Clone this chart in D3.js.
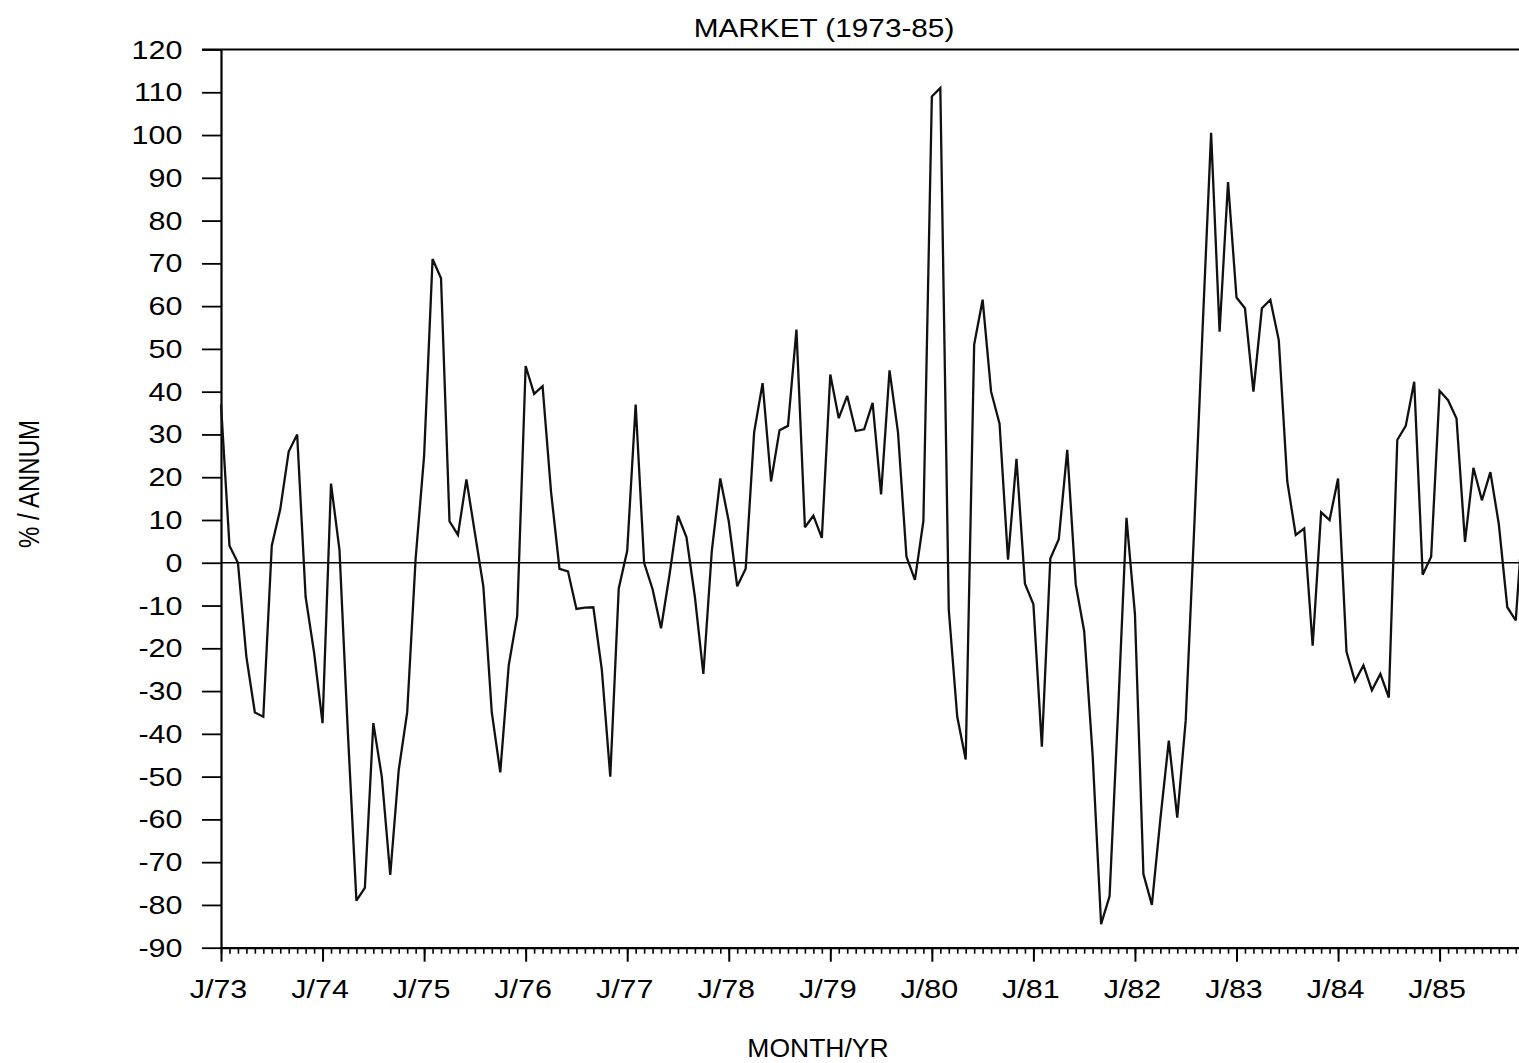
<!DOCTYPE html>
<html>
<head>
<meta charset="utf-8">
<script src="https://cdn.jsdelivr.net/npm/d3@7"></script>
<style>
  body { margin: 0; background: #fff; }
  svg { display: block; background: #fff; font-family: "Liberation Sans", Arial, Helvetica, sans-serif; }
</style>
</head>
<body>
<svg id="chart" width="1519" height="1063"></svg>
<script>
// monthly market return, % per annum, Jan 1973 onwards
var returns = [
  37, 4, 0, -22, -35, -36, 4, 12.5, 26, 30, -8, -21,            // 1973
  -37.5, 18.5, 3, -40, -79, -76, -37.5, -50, -73, -48.5, -35, 1, // 1974
  25, 71, 66.5, 9.7, 6.5, 19.5, 7, -5.5, -35, -49, -24, -12.5,   // 1975
  46, 39.5, 41.3, 16.6, -1.4, -2, -10.8, -10.5, -10.4, -25, -50, -6, // 1976
  2.8, 37, 0, -6.2, -15.3, -2.8, 11, 6, -8, -26, 2.8, 19.7,      // 1977
  9.7, -5.5, -1.4, 30.5, 42, 19, 31, 32, 54.5, 8.3, 11, 5.8,     // 1978
  44, 33.8, 39, 30.8, 31.2, 37.4, 16, 45, 30.5, 1.4, -4, 9.7,    // 1979
  109, 111, -11, -36, -46, 51, 61.5, 40, 32.5, 0.7, 24.3, -4.9,  // 1980
  -9.7, -43, 1, 5.5, 26.4, -5, -16, -45, -84.5, -78, -35, 10.5,  // 1981
  -12, -72.8, -80, -60, -41.6, -59.6, -36.8, 8, 55, 100.5, 54, 89, // 1982
  62, 59.5, 40, 59.5, 61.5, 52, 19, 6.5, 8, -19.4, 11.8, 10,     // 1983
  19.7, -20.8, -27.7, -24, -29.8, -26, -31.5, 28.7, 32, 42.3, -2.8, 1.4, // 1984
  40.2, 38, 33.7, 4.9, 22.2, 14.6, 21.2, 9, -10.4, -13.5, 15     // 1985
];

var yTicks = [120, 110, 100, 90, 80, 70, 60, 50, 40, 30, 20, 10, 0,
  -10, -20, -30, -40, -50, -60, -70, -80, -90];
var yearTicks = [0, 12, 24, 36, 48, 60, 72, 84, 96, 108, 120, 132, 144];
var yearLabels = ["J/73", "J/74", "J/75", "J/76", "J/77", "J/78", "J/79",
  "J/80", "J/81", "J/82", "J/83", "J/84", "J/85"];

var svg = d3.select("#chart");
var stretch = 1.22; // lettering on the original is wide

var x = d3.scaleLinear().domain([0, 160]).range([221, 221 + 160 * 8.4625]);
var y = d3.scaleLinear().domain([-90, 120]).range([947.7, 49.5]);

// top frame line
svg.append("line")
  .attr("x1", 202).attr("x2", x(160))
  .attr("y1", y(120)).attr("y2", y(120))
  .attr("stroke", "#000").attr("stroke-width", 2);

// zero line
svg.append("line")
  .attr("x1", x(0)).attr("x2", x(160))
  .attr("y1", y(0)).attr("y2", y(0))
  .attr("stroke", "#000").attr("stroke-width", 1.3);

// y axis (plain hyphen for negatives, like the original)
var gy = svg.append("g")
  .attr("transform", "translate(" + x(0) + ",0)")
  .call(d3.axisLeft(y).tickValues(yTicks).tickSize(19).tickSizeOuter(0)
    .tickFormat(function(d) { return String(d); }));
gy.select(".domain").attr("stroke-width", 2.2);
gy.selectAll(".tick line").attr("stroke-width", 1.8);
gy.selectAll(".tick text")
  .attr("x", 0)
  .attr("dy", "0.34em")
  .attr("font-size", 25)
  .attr("font-family", "Liberation Sans, Arial, sans-serif")
  .attr("fill", "#000")
  .attr("transform", "translate(-38.5,0) scale(" + stretch + ",1)");

// x axis: minor ticks each month
var gxm = svg.append("g")
  .attr("transform", "translate(0," + y(-90) + ")")
  .call(d3.axisBottom(x).tickValues(d3.range(0, 161)).tickSize(6).tickSizeOuter(0).tickFormat(""));
gxm.select(".domain").attr("stroke-width", 2.2);
gxm.selectAll(".tick line").attr("stroke-width", 1.6);

// x axis: years
var gx = svg.append("g")
  .attr("transform", "translate(0," + y(-90) + ")")
  .call(d3.axisBottom(x).tickValues(yearTicks).tickSize(14).tickSizeOuter(0)
    .tickFormat(function(d, i) { return yearLabels[i]; }));
gx.select(".domain").remove();
gx.selectAll(".tick line").attr("stroke-width", 2);
gx.selectAll(".tick text")
  .attr("y", 0)
  .attr("dy", 0)
  .attr("font-size", 25)
  .attr("font-family", "Liberation Sans, Arial, sans-serif")
  .attr("fill", "#000")
  .attr("transform", "translate(-3,50.5) scale(" + stretch + ",1)");

// the series
var line = d3.line()
  .x(function(d, i) { return x(i); })
  .y(function(d) { return y(d); });

svg.append("path")
  .datum(returns)
  .attr("d", line)
  .attr("fill", "none")
  .attr("stroke", "#111")
  .attr("stroke-width", 2.3)
  .attr("stroke-linejoin", "miter")
  .attr("stroke-miterlimit", 3);

// titles
svg.append("text")
  .attr("transform", "translate(824,37) scale(1.19,1)")
  .attr("text-anchor", "middle")
  .attr("font-size", 25)
  .text("MARKET (1973-85)");

svg.append("text")
  .attr("transform", "translate(818,1057) scale(1.06,1)")
  .attr("text-anchor", "middle")
  .attr("font-size", 25)
  .text("MONTH/YR");

svg.append("text")
  .attr("transform", "translate(39,484) rotate(-90) scale(1,1.22)")
  .attr("text-anchor", "middle")
  .attr("font-size", 24)
  .text("% / ANNUM");
</script>
</body>
</html>
